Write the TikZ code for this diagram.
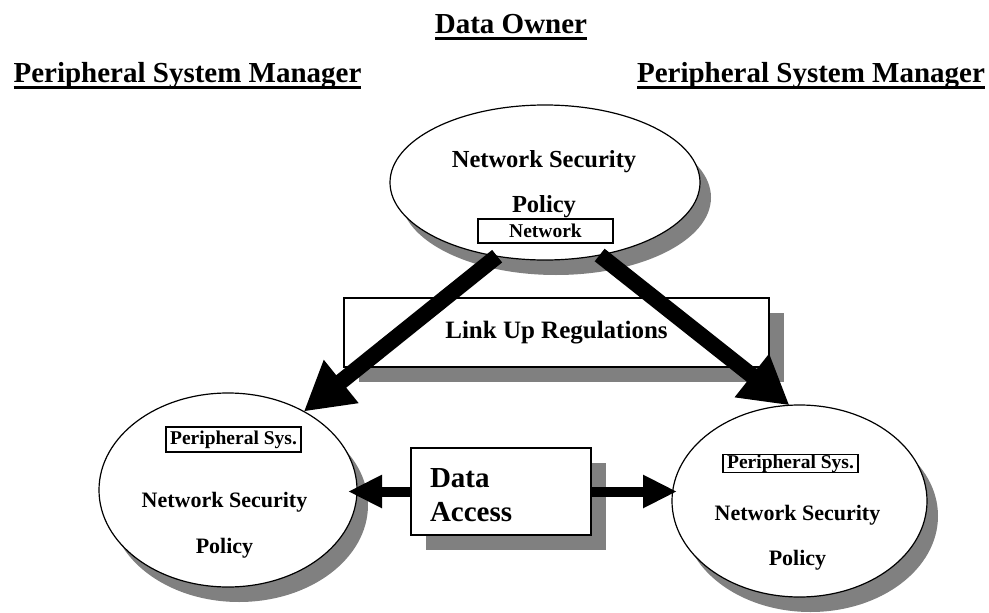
\documentclass[tikz,border=0pt]{standalone}
\usepackage{fontspec}
\setmainfont{Liberation Serif}
\usetikzlibrary{arrows.meta,shapes.geometric,shadows}

\definecolor{shadowgray}{RGB}{128,128,128}

\begin{document}
\begin{tikzpicture}[x=1pt,y=-1pt,
  every node/.style={font=\bfseries, inner sep=0pt, outer sep=0pt},
  heading/.style={font=\fontsize{29}{34}\selectfont\bfseries, anchor=base},
  policy/.style={ellipse, draw, line width=1.2pt, fill=white,
    drop shadow={shadow xshift=11pt, shadow yshift=-15pt, fill=shadowgray, opacity=1}},
  panel/.style={rectangle, draw, line width=1.4pt, fill=white,
    drop shadow={shadow xshift=15pt, shadow yshift=-15pt, fill=shadowgray, opacity=1}},
  tag/.style={rectangle, draw, line width=1.2pt, fill=white, minimum width=135pt,
    font=\fontsize{19.5}{22}\selectfont\bfseries},
  bigtext/.style={font=\fontsize{24.5}{28}\selectfont\bfseries, anchor=base},
  sidetext/.style={font=\fontsize{22}{26}\selectfont\bfseries, anchor=base},
  bigarrow/.style={line width=16pt, -{Triangle[length=48pt,width=52pt]}},
  smallarrow/.style={line width=10pt, -{Triangle[length=34pt,width=31pt]}},
  underrule/.style={line width=2.5pt}
]
\useasboundingbox (0,0) rectangle (989,613);

% headings
\node[heading] (owner) at (511,33) {Data Owner};
\node[heading] (mgrL) at (187.5,82) {Peripheral System Manager};
\node[heading] (mgrR) at (811,82) {Peripheral System Manager};
\foreach \h in {owner,mgrL,mgrR}
  \draw[underrule] ([yshift=-5.5pt]\h.base west) -- ([yshift=-5.5pt]\h.base east);

% network policy (top)
\node[policy, minimum width=310pt, minimum height=155pt] (top) at (545,182.5) {};
\node[bigtext] (topA) at (544,167) {Network Security};
\node[bigtext] (topB) at (544,212) {Policy};
\node[tag, minimum height=24pt] (net) at (545.5,231) {Network};

% link up regulations
\node[panel, minimum width=425pt, minimum height=69pt,
  font=\fontsize{25}{30}\selectfont\bfseries] (link) at (556.5,332.5) {Link Up Regulations};

% peripheral system policies
\node[policy, minimum width=258pt, minimum height=194pt] (left) at (228,490) {};
\node[tag, minimum height=25pt] (pL) at (233.5,439.5) {Peripheral Sys.};
\node[sidetext] (leftA) at (224.5,507) {Network Security};
\node[sidetext] (leftB) at (224.5,553) {Policy};

\node[policy, minimum width=255pt, minimum height=192pt] (right) at (799.5,501) {};
\node[tag, minimum height=18pt] (pR) at (790.5,463.5) {Peripheral Sys.};
\node[sidetext] (rightA) at (797.5,520) {Network Security};
\node[sidetext] (rightB) at (797.5,565) {Policy};

% data access
\node[panel, minimum width=180pt, minimum height=87pt] (data) at (501,491.5) {};
\node[font=\fontsize{29}{34}\selectfont\bfseries, anchor=base west] (dataA) at (430,487) {Data};
\node[font=\fontsize{29}{34}\selectfont\bfseries, anchor=base west] (dataB) at (430,521) {Access};

% connectors
\draw[bigarrow] (top.237) -- (left.46);
\draw[bigarrow] (top.307) -- (right.96);
\draw[smallarrow, shorten >=-9pt] (data.west) -- (data.west -| left.east);
\draw[smallarrow, shorten >=-5pt] (data.east) -- (data.east -| right.west);
\end{tikzpicture}
\end{document}
